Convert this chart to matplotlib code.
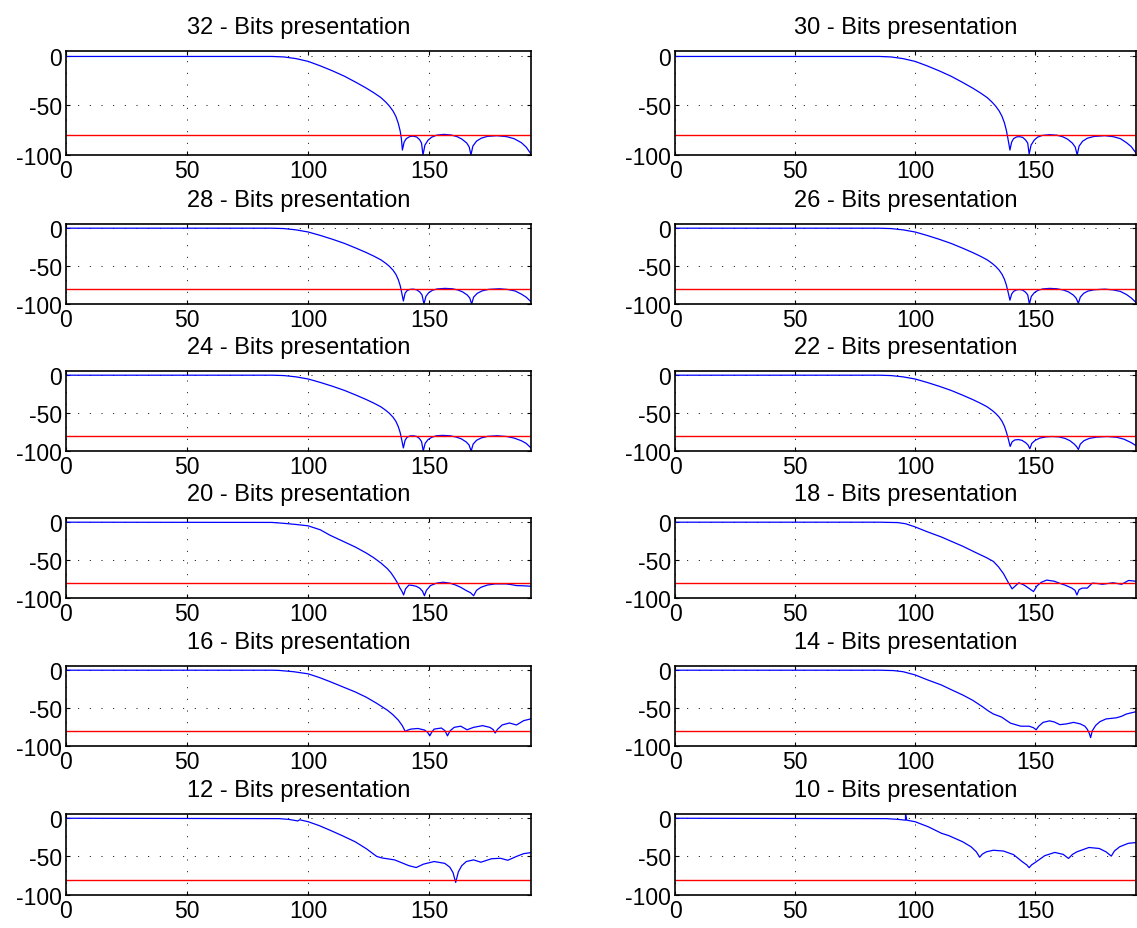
import matplotlib.pyplot as plt
import numpy as np

plt.rcParams['font.family'] = ['Liberation Sans', 'DejaVu Sans']
plt.rcParams['axes.unicode_minus'] = False

# numero de bits de cada quantizacao (ordem dos subplots)
bits = [32, 30, 28, 26, 24, 22, 20, 18, 16, 14, 12, 10]
limite_db = -80

# respostas em frequencia (dB)
x_32 = [0, 85, 90, 95, 100, 105, 110, 115, 120, 124, 127, 130, 132, 133.5, 135, 136.2, 137.2, 138, 138.5, 138.9,
        139.6, 140.5, 142, 143.4, 144.8, 146, 146.8, 147.4, 148.2, 149.5, 151, 153, 156, 159,
        161.5, 163.5, 165.5, 166.5, 167.2, 168, 169.5, 171.5, 174, 178, 182, 185, 188, 190, 192]
y_32 = [-0.5, -0.5, -1, -2.7, -5.5, -10, -15, -20.5, -27, -32.5, -37, -42, -46.5, -50.5, -55.5, -61, -68, -76, -84, -95,
        -87, -83.5, -81.3, -81, -81.8, -84.5, -88, -100, -90, -85, -82, -80, -79.2, -79.8,
        -81.5, -84, -88, -92, -100, -91, -86, -83, -81.2, -80.5, -81.5, -83.5, -87.5, -92, -99]

x_30 = [0, 85, 90, 95, 100, 105, 110, 115, 120, 124, 127, 130, 132, 133.5, 135, 136.2, 137.2, 138, 138.7, 139.5,
        140.2, 141, 142.3, 143.5, 144.8, 146, 146.9, 147.5, 148.3, 149.6, 151, 153, 156, 159,
        161.5, 163.5, 165.5, 166.7, 167.5, 168.3, 169.8, 171.8, 174.5, 179, 182.5, 185.5, 188, 190, 192]
y_30 = [-0.5, -0.5, -1, -2.7, -5.5, -10, -15, -20.5, -27, -32.5, -37, -42, -46.5, -50.5, -55.5, -61, -67.5, -75, -84, -95,
        -87, -83.5, -81.7, -81.5, -82.2, -84.8, -88, -99, -90, -85, -82, -80.2, -79.5, -80,
        -81.6, -84, -88, -92, -100, -91, -86, -83, -81.3, -80.5, -81.5, -83.5, -87.5, -91.5, -98]

x_28 = [0, 85, 90, 95, 100, 105, 110, 115, 120, 124, 127, 130, 132, 133.5, 135, 136.2, 137.2, 138, 138.6, 139.3,
        140, 140.8, 142, 143.3, 144.7, 146, 147, 147.8, 148.6, 149.8, 151.3, 153.3, 156.5, 159.5,
        161.8, 163.7, 165.6, 166.7, 167.5, 168.3, 169.8, 171.8, 174.5, 179, 182.5, 185.5, 188, 190, 192]
y_28 = [-0.5, -0.5, -1, -2.7, -5.5, -10, -15, -20.5, -27, -32.5, -37, -42, -46.5, -50.5, -55.5, -61, -68, -76, -85, -96,
        -86, -82.5, -80.8, -80.5, -81.3, -84, -88, -100, -90, -85, -82, -80.2, -79.5, -80,
        -81.6, -84, -88, -92, -100, -91, -86, -82.8, -80.8, -80, -81, -83, -87, -91, -97]

x_26 = [0, 85, 90, 95, 100, 105, 110, 115, 120, 124, 127, 130, 132, 133.5, 135, 136.2, 137.2, 138, 138.7, 139.5,
        140.2, 141, 142.2, 143.5, 144.8, 146, 146.9, 147.6, 148.4, 149.7, 151.2, 153.2, 156, 159,
        161.7, 163.8, 165.8, 167, 168, 168.8, 170.2, 172, 174.7, 179, 182.5, 185.5, 188, 190, 192]
y_26 = [-0.5, -0.5, -1, -2.7, -5.5, -10, -15, -20.5, -27, -32.5, -37, -42, -46.5, -50.5, -55.5, -61, -67.5, -75, -84, -95,
        -87, -83.5, -81.5, -81, -81.8, -84.5, -88, -100, -90, -85, -82, -80.2, -79.5, -80,
        -81.6, -84, -88, -92, -99, -91, -86, -83, -81.3, -80.5, -81.5, -83.5, -87.5, -92, -98]

x_24 = [0, 85, 90, 95, 100, 105, 110, 115, 120, 124, 127, 130, 132, 133.5, 135, 136.2, 137.2, 138, 138.6, 139.3,
        140, 140.8, 142, 143.3, 144.7, 145.9, 146.8, 147.5, 148.3, 149.5, 151, 153, 155.5, 158.5,
        161, 163.2, 165.2, 166.4, 167.3, 168.1, 169.5, 171.5, 174, 178, 182, 185, 188, 190, 192]
y_24 = [-0.5, -0.5, -1, -2.7, -5.5, -10, -15, -20.5, -27, -32.5, -37, -42, -46.5, -50.5, -55.5, -61, -68, -76, -85, -96,
        -86, -82, -80.3, -80, -80.8, -83.5, -87.5, -100, -90, -85, -82, -80, -79.5, -80,
        -81.6, -84, -88, -92, -100, -91, -86, -82.8, -80.8, -80, -81, -83, -86.5, -90, -96]

x_22 = [0, 85, 90, 95, 100, 105, 110, 115, 120, 124, 127, 130, 132, 133.5, 135, 136.2, 137.2, 138, 138.8, 139.6,
        140.4, 141.5, 143, 144.5, 146, 147, 147.8, 148.6, 150, 152, 154.5, 157, 160,
        162.5, 164.5, 166.3, 167.2, 168, 168.8, 170.3, 172.5, 175.5, 180, 184, 187, 190, 192]
y_22 = [-0.5, -0.5, -1, -2.7, -5.5, -10, -15, -20.5, -27, -32.5, -37, -42, -46.5, -50.5, -55.5, -61, -67.5, -75, -84, -94,
        -88, -85.5, -85, -86, -89, -92, -97, -90, -86, -83, -81.5, -81, -81.5,
        -83.5, -86.5, -91, -94, -98, -91, -86.5, -83.5, -81.8, -81, -82, -84.5, -89, -93]

x_20 = [0, 85, 90, 95, 100, 105, 109, 114, 119.4, 124, 127, 130, 132.7, 134.2, 135.7, 137,
        137.9, 138.7, 139.4, 140.2, 141.6, 143, 144.6, 146, 147.2, 148, 148.8, 150.5, 153, 155.7,
        158.5, 160.9, 163, 165.3, 167, 168.3, 169.5, 171.3, 174, 177.2, 181.6, 184, 186, 189, 192]
y_20 = [-0.5, -0.8, -2, -3.5, -5.3, -10.5, -17.6, -25, -33, -41, -47, -54, -61.5, -67, -74, -81,
        -87, -91, -96, -88, -83, -83.5, -84.6, -87, -91, -97, -90, -83.7, -80.5, -79.3,
        -80.5, -83, -86, -90.3, -93, -97, -90, -86, -83, -81.5, -81.5, -82.5, -83.7, -84, -84.6]

x_18 = [0, 85, 92.7, 96, 100, 105, 111, 115, 119.8, 125, 129.7, 132.6, 134.7, 136.8, 138.7,
        140.4, 141.8, 143.2, 145.4, 147.5, 149.3, 150.8, 152.5, 154.8, 158, 160, 162.4, 165.3,
        166.6, 167.4, 168.3, 169.6, 171.7, 173.8, 176, 178, 180.2, 182.4, 184.2, 186, 188.9, 192]
y_18 = [-0.5, -0.5, -1, -2.5, -6.7, -13, -20, -25.5, -32, -40, -47, -52, -59, -68, -79,
        -88, -84, -80, -83, -87.5, -91.5, -84, -79.5, -76.5, -78, -80.5, -83, -87,
        -90, -96, -89, -87, -87, -80.5, -81, -82, -81, -80, -81, -82, -77, -78]

x_16 = [0, 85, 88, 94, 100, 104.5, 109, 114, 119.4, 124, 128.3, 132.7, 135, 137.2, 138.8,
        140.1, 141.2, 142.4, 145.3, 148, 149.3, 150.2, 151, 152, 155, 156.5, 157.5, 158.6,
        160.3, 163, 165.6, 168.3, 172, 175, 176.4, 177.2, 178.2, 180.1, 183.1, 186, 189, 192]
y_16 = [-0.5, -0.5, -0.8, -2.5, -5.3, -10, -15.5, -22, -29, -36, -44, -53, -59, -66, -73,
        -81, -79, -77.8, -77, -79, -82, -86.7, -82, -77.8, -76.4, -80, -86.7, -80,
        -75.5, -74, -78.7, -75.5, -73.3, -75.5, -78.5, -83, -78, -72.4, -69.8, -72.4, -66.7, -64.4]

x_14 = [0, 85, 91, 95, 100, 105, 111, 115, 119.8, 124, 128.3, 130.5, 132.6, 136, 139.7, 144,
        147.5, 149.3, 150.4, 151.5, 153.3, 156, 158, 160.3, 163, 166, 168.8, 170.7, 171.7,
        172.5, 173.1, 173.8, 175.2, 177, 179.5, 183.8, 186, 188, 192]
y_14 = [-0.5, -0.5, -1, -2.5, -6.7, -13, -20, -26, -33, -40, -49, -54, -58, -62, -70, -74,
        -74, -76, -78.7, -74, -69, -67, -68.5, -72, -71, -69, -71, -74, -78,
        -83, -89, -80, -73, -68, -64.5, -63, -61, -58, -55]

x_12 = [0, 88, 92, 95.7, 96.5, 100, 104.5, 109, 114, 119.4, 124, 128.3, 130.5, 135.7, 141.6,
        144.6, 147.6, 152, 156.4, 158.5, 159.8, 160.9, 162, 163.4, 165.3, 168.3, 171.3, 175.7,
        179.4, 182.4, 186, 189, 192]
y_12 = [-0.5, -1, -2, -4, -2.5, -5, -10, -16, -23, -31, -40, -50, -52, -54.5, -62,
        -64.4, -60, -56.6, -59, -64, -71, -83.7, -70, -62, -56.6, -54.5, -57.5, -53,
        -52.4, -55, -50, -46.4, -45]

x_10 = [0, 88, 93, 96, 96, 96.5, 100, 105.5, 111, 114, 119.8, 123.3, 125.5, 126.9, 128, 129.7,
        132.6, 136.8, 141, 144.7, 146.5, 147.5, 148.5, 150.4, 154, 158.2, 161.7, 163.9, 165.5,
        167.4, 172.4, 176.7, 179.5, 181.7, 183, 185.2, 188.8, 192]
y_10 = [-0.5, -1, -2, -3, 5, -3, -5, -11.6, -20, -23, -31, -37.5, -44, -51, -47, -44,
        -42, -43, -47.7, -57, -61, -64.6, -61, -57, -49, -44.8, -47.4, -52.6, -47.5,
        -44, -38.4, -39.7, -44, -49.6, -43, -37.5, -33, -32]

curvas = [(x_32, y_32), (x_30, y_30), (x_28, y_28), (x_26, y_26), (x_24, y_24), (x_22, y_22),
          (x_20, y_20), (x_18, y_18), (x_16, y_16), (x_14, y_14), (x_12, y_12), (x_10, y_10)]

W, H = 1137, 929
fig = plt.figure(figsize=(W / 100, H / 100), dpi=100, facecolor='white')

# posicoes (em pixels) das colunas e linhas
col_x = [66, 675]
col_w = [465, 461]
row_top = [52, 225, 372, 519, 667, 815]
row_h = [104, 80, 80, 80, 80, 81]

for k, (b, (xs, ys)) in enumerate(zip(bits, curvas)):
    r, c = k // 2, k % 2
    ax = fig.add_axes([col_x[c] / W, 1 - (row_top[r] + row_h[r]) / H, col_w[c] / W, row_h[r] / H])
    ax.plot(xs, ys, color='blue', linewidth=0.9)
    ax.axhline(limite_db, color='red', linewidth=1.0)
    ax.set_xlim(0, 192)
    ax.set_ylim(-100, 5)
    ax.set_xticks([0, 50, 100, 150])
    ax.set_yticks([-100, -50, 0])
    ax.grid(True, color='black', linestyle=(0, (1, 11)), linewidth=0.7)
    ax.tick_params(direction='in', length=3, width=0.8, top=True, right=True,
                   labelsize=16.5, pad=3)
    for s in ax.spines.values():
        s.set_linewidth(1.2)
    ax.set_title('%d - Bits presentation' % b, fontsize=17, pad=13)

plt.savefig('out.png', dpi=100)
